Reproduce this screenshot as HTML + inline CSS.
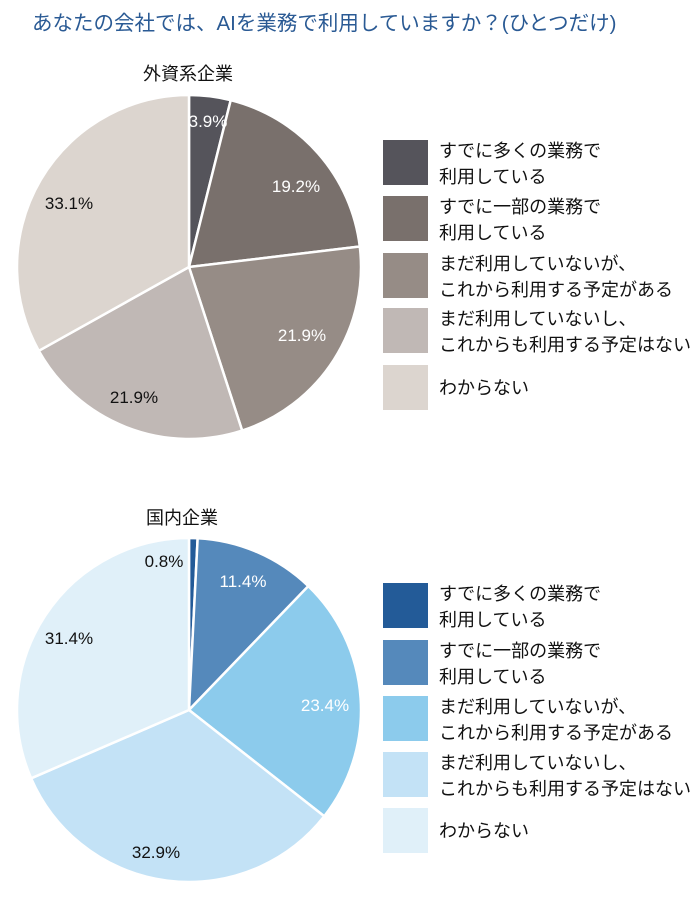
<!DOCTYPE html>
<html><head><meta charset="utf-8"><style>
body{margin:0;background:#fff;width:700px;height:899px;overflow:hidden;font-family:"Liberation Sans","Noto Sans CJK JP",sans-serif}
</style></head><body>
<svg id="s" width="700" height="899" xmlns="http://www.w3.org/2000/svg" font-family="Liberation Sans, Noto Sans CJK JP, sans-serif">
<text x="32" y="30" font-size="20.5" fill="#2a5a94">あなたの会社では、AIを業務で利用していますか？(ひとつだけ)</text>
<text x="188" y="80" font-size="18" fill="#111" text-anchor="middle">外資系企業</text>
<text x="182" y="524" font-size="18" fill="#111" text-anchor="middle">国内企業</text>
<g id="p1"></g><g id="p2"></g>
<g font-size="17" text-anchor="middle">
<text x="208" y="127" fill="#fff">3.9%</text>
<text x="296" y="192" fill="#fff">19.2%</text>
<text x="302" y="341" fill="#fff">21.9%</text>
<text x="134" y="403" fill="#111">21.9%</text>
<text x="69" y="209" fill="#111">33.1%</text>
<text x="164" y="567" fill="#111">0.8%</text>
<text x="243" y="587" fill="#fff">11.4%</text>
<text x="325" y="711" fill="#fff">23.4%</text>
<text x="156" y="858" fill="#111">32.9%</text>
<text x="69" y="644" fill="#111">31.4%</text>
</g>
<g id="lg" font-size="18" fill="#111"></g>
</svg>
<script>
var ns="http://www.w3.org/2000/svg";
function pie(id,cx,cy,r,vals,cols){var g=document.getElementById(id),a=0;
vals.forEach(function(v,i){var a0=a,a1=a+v/100*2*Math.PI;a=a1;
var x0=cx+r*Math.sin(a0),y0=cy-r*Math.cos(a0),x1=cx+r*Math.sin(a1),y1=cy-r*Math.cos(a1);
var p=document.createElementNS(ns,"path");
p.setAttribute("d","M"+cx+","+cy+"L"+x0+","+y0+"A"+r+","+r+" 0 "+((a1-a0)>Math.PI?1:0)+" 1 "+x1+","+y1+"Z");
p.setAttribute("fill",cols[i]);p.setAttribute("stroke","#fff");p.setAttribute("stroke-width","2.5");g.appendChild(p);});}
var c1=["#55545b","#79706c","#968c86","#c0b8b5","#dcd5cf"],c2=["#235b98","#5589bb","#8ccbec","#c3e2f6","#e0f0f9"];
pie("p1",189,267,172,[3.9,19.2,21.9,21.9,33.1],c1);
pie("p2",189,710,172,[0.8,11.4,23.4,32.9,31.5],c2);
var labs=[["すでに多くの業務で","利用している"],["すでに一部の業務で","利用している"],["まだ利用していないが、","これから利用する予定がある"],["まだ利用していないし、","これからも利用する予定はない"],["わからない"]];
var lg=document.getElementById("lg");
function legend(ys,cols){ys.forEach(function(y,i){var r=document.createElementNS(ns,"rect");
r.setAttribute("x",383);r.setAttribute("y",y);r.setAttribute("width",45);r.setAttribute("height",45);r.setAttribute("fill",cols[i]);lg.appendChild(r);
var L=labs[i];L.forEach(function(t,j){var tx=document.createElementNS(ns,"text");tx.setAttribute("x",439);
tx.setAttribute("y",L.length==1?y+29:y+17+j*26);tx.textContent=t;lg.appendChild(tx);});});}
legend([140,196,253,308,365],c1);
legend([583,640,696,752,808],c2);
</script>
</body></html>
